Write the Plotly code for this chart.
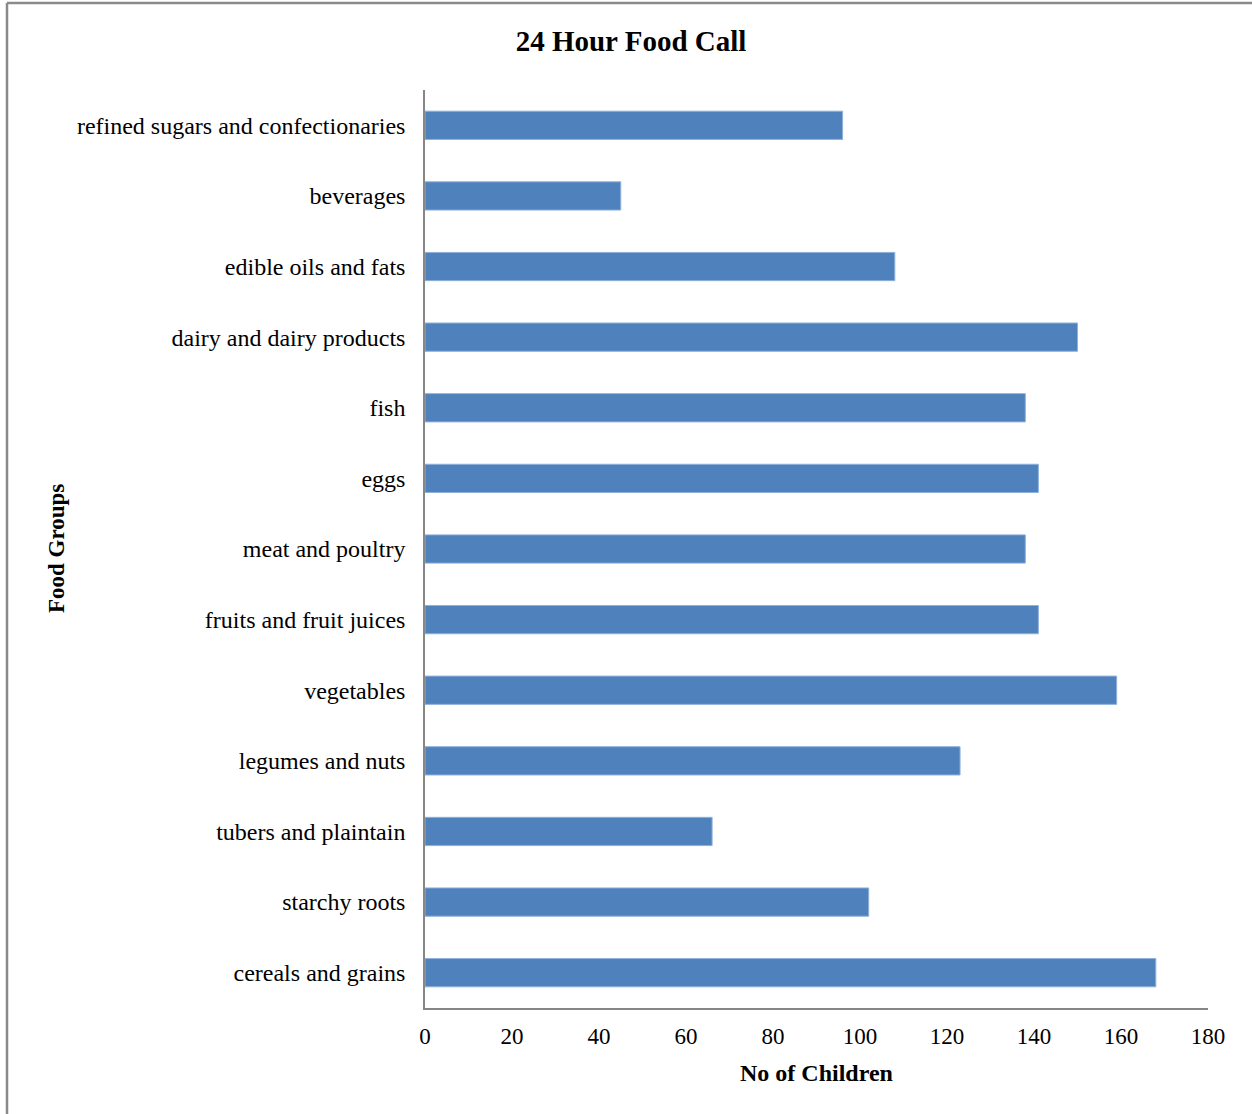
import plotly.graph_objects as go

categories = [
    "cereals and grains",
    "starchy roots",
    "tubers and plaintain",
    "legumes and nuts",
    "vegetables",
    "fruits and fruit juices",
    "meat and poultry",
    "eggs",
    "fish",
    "dairy and dairy products",
    "edible oils and fats",
    "beverages",
    "refined sugars and confectionaries",
]
children = [168, 102, 66, 123, 159, 141, 138, 141, 138, 150, 108, 45, 96]
x_ticks = [0, 20, 40, 60, 80, 100, 120, 140, 160, 180]

W, H = 1252, 1114
L, R, T, B = 425, 1208, 90, 1008

FONT = "Liberation Serif, Times New Roman, serif"

fig = go.Figure(
    go.Bar(
        x=children,
        y=categories,
        orientation="h",
        marker=dict(color="#4F81BD", line=dict(color="#8EB0DB", width=1)),
    )
)


def px_x(p):
    return (p - L) / (R - L)


def px_y(p):
    return (B - p) / (B - T)


fig.update_layout(
    width=W,
    height=H,
    margin=dict(l=L, r=W - R, t=T, b=H - B, pad=0),
    paper_bgcolor="white",
    plot_bgcolor="white",
    bargap=0.6,
    showlegend=False,
    font=dict(family=FONT, size=24, color="#000000"),
    title=dict(
        text="<b>24 Hour Food Call</b>",
        x=631 / W,
        xref="container",
        xanchor="center",
        y=1 - 41 / H,
        yref="container",
        yanchor="middle",
        font=dict(family=FONT, size=29, color="#000000"),
    ),
    xaxis=dict(
        range=[0, 180],
        tickvals=x_ticks,
        ticktext=[str(v) for v in x_ticks],
        showgrid=False,
        zeroline=False,
        showline=True,
        linecolor="#868686",
        linewidth=1.5,
        ticks="outside",
        ticklen=7,
        tickcolor="rgba(0,0,0,0)",
        tickfont=dict(family=FONT, size=23),
        fixedrange=True,
    ),
    yaxis=dict(
        categoryorder="array",
        categoryarray=categories,
        showgrid=False,
        zeroline=False,
        showline=True,
        linecolor="#868686",
        linewidth=1.5,
        ticks="outside",
        ticklen=13,
        tickcolor="rgba(0,0,0,0)",
        tickfont=dict(family=FONT, size=24),
        fixedrange=True,
    ),
    annotations=[
        dict(
            text="<b>No of Children</b>",
            x=px_x(816),
            y=px_y(1073),
            xref="paper",
            yref="paper",
            xanchor="center",
            yanchor="middle",
            showarrow=False,
            font=dict(family=FONT, size=24, color="#000000"),
        ),
        dict(
            text="<b>Food Groups</b>",
            x=px_x(56),
            y=px_y(549),
            xref="paper",
            yref="paper",
            xanchor="center",
            yanchor="middle",
            textangle=-90,
            showarrow=False,
            font=dict(family=FONT, size=23, color="#000000"),
        ),
    ],
    shapes=[
        dict(
            type="line",
            xref="paper",
            yref="paper",
            x0=px_x(7),
            x1=px_x(W + 5),
            y0=px_y(3),
            y1=px_y(3),
            line=dict(color="#8A8A8A", width=2.5),
        ),
        dict(
            type="line",
            xref="paper",
            yref="paper",
            x0=px_x(7),
            x1=px_x(7),
            y0=px_y(3),
            y1=px_y(H + 5),
            line=dict(color="#8A8A8A", width=2.5),
        ),
    ],
)

fig.write_html("out.html")
